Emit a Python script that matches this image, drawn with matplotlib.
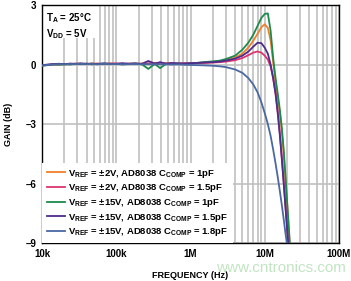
import matplotlib
matplotlib.use("Agg")
import matplotlib.pyplot as plt
from matplotlib.patches import Rectangle
from matplotlib.ticker import FixedLocator, LogLocator, NullFormatter

plt.rcParams["font.family"] = ["Liberation Sans", "DejaVu Sans"]
plt.rcParams["font.weight"] = "bold"
plt.rcParams["axes.labelweight"] = "bold"
plt.rcParams["mathtext.fontset"] = "custom"
plt.rcParams["mathtext.rm"] = "Liberation Sans:bold"
plt.rcParams["mathtext.it"] = "Liberation Sans:bold"
plt.rcParams["mathtext.bf"] = "Liberation Sans:bold"

# frequency points, MHz
freq_mhz = [0.010, 0.012, 0.014, 0.017, 0.020, 0.024, 0.028, 0.033, 0.040, 0.047,
            0.056, 0.068, 0.082, 0.100, 0.120, 0.150, 0.180, 0.220, 0.270, 0.330,
            0.390, 0.470, 0.560, 0.680, 0.820, 1.0, 1.2, 1.5, 2.0, 2.5,
            3.0, 4.0, 5.0, 6.0, 7.0, 8.0, 9.0, 10.0, 11.0, 12.0,
            13.0, 14.0, 15.0, 16.0, 17.0, 18.0, 19.0, 20.0, 21.0, 22.0, 23.0]

# gain, dB
gain_2v_1p0 = [-0.05, -0.02, 0.00, 0.02, 0.01, 0.04, 0.03, 0.05, 0.02, 0.06,
               0.04, 0.03, 0.06, 0.04, 0.02, 0.05, 0.03, 0.06, 0.04, 0.08,
               0.05, 0.07, 0.06, 0.05, 0.07, 0.06, 0.08, 0.10, 0.14, 0.18,
               0.22, 0.35, 0.55, 0.85, 1.20, 1.55, 1.88, 2.03, 1.85, 1.20,
               0.10, -0.90, -1.70, -2.50, -3.40, -4.50, -5.80, -7.00, -8.20, -9.40, -10.5]
gain_2v_1p5 = [-0.04, -0.01, 0.01, 0.00, 0.03, 0.02, 0.05, 0.03, 0.04, 0.02,
               0.05, 0.03, 0.04, 0.06, 0.03, 0.04, 0.05, 0.02, 0.06, 0.04,
               0.07, 0.05, 0.06, 0.04, 0.06, 0.05, 0.07, 0.08, 0.10, 0.12,
               0.15, 0.22, 0.33, 0.47, 0.60, 0.66, 0.60, 0.45, 0.25, -0.10,
               -0.70, -1.45, -2.40, -3.50, -4.70, -5.90, -7.10, -8.20, -9.30, -10.4, -11.0]
gain_15v_1p0 = [-0.06, -0.03, 0.01, -0.01, 0.02, 0.00, 0.04, 0.02, 0.05, 0.01,
                0.03, 0.05, 0.02, 0.04, 0.01, 0.03, 0.05, 0.02, -0.22, 0.03,
                -0.18, 0.04, 0.02, 0.05, 0.03, 0.06, 0.08, 0.12, 0.16, 0.20,
                0.28, 0.45, 0.75, 1.10, 1.50, 1.95, 2.35, 2.55, 2.58, 1.70,
                0.30, -0.70, -1.50, -2.30, -3.20, -4.30, -5.60, -6.90, -8.10, -9.30, -10.4]
gain_15v_1p5 = [-0.03, 0.00, 0.02, 0.04, 0.01, 0.05, 0.03, 0.06, 0.03, 0.05,
                0.02, 0.06, 0.04, 0.03, 0.07, 0.04, 0.06, 0.03, 0.18, 0.05,
                0.12, 0.04, 0.08, 0.06, 0.05, 0.07, 0.08, 0.10, 0.12, 0.15,
                0.20, 0.30, 0.45, 0.65, 0.90, 1.10, 1.08, 0.85, 0.55, 0.00,
                -0.70, -1.50, -2.50, -3.60, -4.80, -6.00, -7.20, -8.30, -9.30, -10.3, -11.0]
gain_15v_1p8 = [-0.05, -0.02, 0.00, 0.02, 0.01, 0.03, 0.02, 0.04, 0.02, 0.03,
                0.01, 0.04, 0.02, 0.03, 0.01, 0.02, 0.03, 0.01, 0.02, 0.01,
                0.02, 0.01, 0.00, 0.01, -0.01, -0.02, -0.03, -0.04, -0.06, -0.09,
                -0.13, -0.25, -0.42, -0.68, -1.00, -1.40, -1.90, -2.45, -3.00, -3.60,
                -4.30, -5.00, -5.70, -6.40, -7.10, -7.80, -8.50, -9.10, -9.70, -10.3, -11.0]

labels = [r"V$_{\rm REF}$ = ±2V, AD8038 C$_{\rm COMP}$ = 1pF",
          r"V$_{\rm REF}$ = ±2V, AD8038 C$_{\rm COMP}$ = 1.5pF",
          r"V$_{\rm REF}$ = ±15V, AD8038 C$_{\rm COMP}$ = 1pF",
          r"V$_{\rm REF}$ = ±15V, AD8038 C$_{\rm COMP}$ = 1.5pF",
          r"V$_{\rm REF}$ = ±15V, AD8038 C$_{\rm COMP}$ = 1.8pF"]
colors = ["#f07f2c", "#dc3470", "#1d8a4c", "#4e2c8e", "#4a68a3"]
series = [gain_2v_1p0, gain_2v_1p5, gain_15v_1p0, gain_15v_1p5, gain_15v_1p8]

fig = plt.figure(figsize=(3.51, 2.81), dpi=100)
ax = fig.add_axes([0.1197, 0.1352, 0.8461, 0.8468])

hz = [f * 1e6 for f in freq_mhz]
for g, c, lab in zip(series, colors, labels):
    ax.plot(hz, g, color=c, lw=1.3, label=lab, zorder=3)

ax.set_xscale("log")
ax.set_xlim(1e4, 1e8)
ax.set_ylim(-9, 3)
ax.xaxis.set_major_locator(FixedLocator([1e4, 1e5, 1e6, 1e7, 1e8]))
ax.xaxis.set_minor_locator(LogLocator(base=10, subs=range(2, 10), numticks=20))
ax.xaxis.set_minor_formatter(NullFormatter())
ax.set_xticklabels(["10k", "100k", "1M", "10M", "100M"])
ax.set_yticks([3, 0, -3, -6, -9])
ax.set_yticklabels(["3", "0", "–3", "–6", "–9"])
ax.tick_params(which="both", length=0, labelsize=7, pad=4)
ax.grid(True, which="both", axis="x", color="#c0c0c0", lw=1.2)
ax.grid(True, which="major", axis="y", color="#c0c0c0", lw=1.2)
ax.set_axisbelow(True)
for s in ax.spines.values():
    s.set_color("black")
    s.set_linewidth(1.0)

ax.set_xlabel("FREQUENCY (Hz)", fontsize=6.5, labelpad=9)
ax.set_ylabel("GAIN (dB)", fontsize=6.5, labelpad=9)

# white box behind the conditions text
ax.add_patch(Rectangle((0, 0.861), 0.185, 0.139, transform=ax.transAxes,
                       facecolor="white", edgecolor="none", zorder=2))
ax.text(0.012, 0.975, "T$_{\\rm A}$ = 25°C\nV$_{\\rm DD}$ = 5V", transform=ax.transAxes,
        fontsize=7, va="top", ha="left", linespacing=1.25, zorder=4)

leg = ax.legend(loc="lower left", fontsize=6.8, frameon=True, fancybox=False,
                borderaxespad=0, handlelength=1.9, handletextpad=0.4,
                labelspacing=0.28, borderpad=0.5)
leg.get_frame().set_facecolor("white")
leg.get_frame().set_edgecolor("none")
leg.get_frame().set_alpha(1)
leg.set_zorder(5)

# site watermark, kept to the right of the axis title
fig.text(0.985, 0.045, "www.cntronics.com", fontsize=11, color="#c2e4c2",
         ha="right", va="center", fontweight="normal", zorder=0)

fig.savefig("out.png", dpi=100)
